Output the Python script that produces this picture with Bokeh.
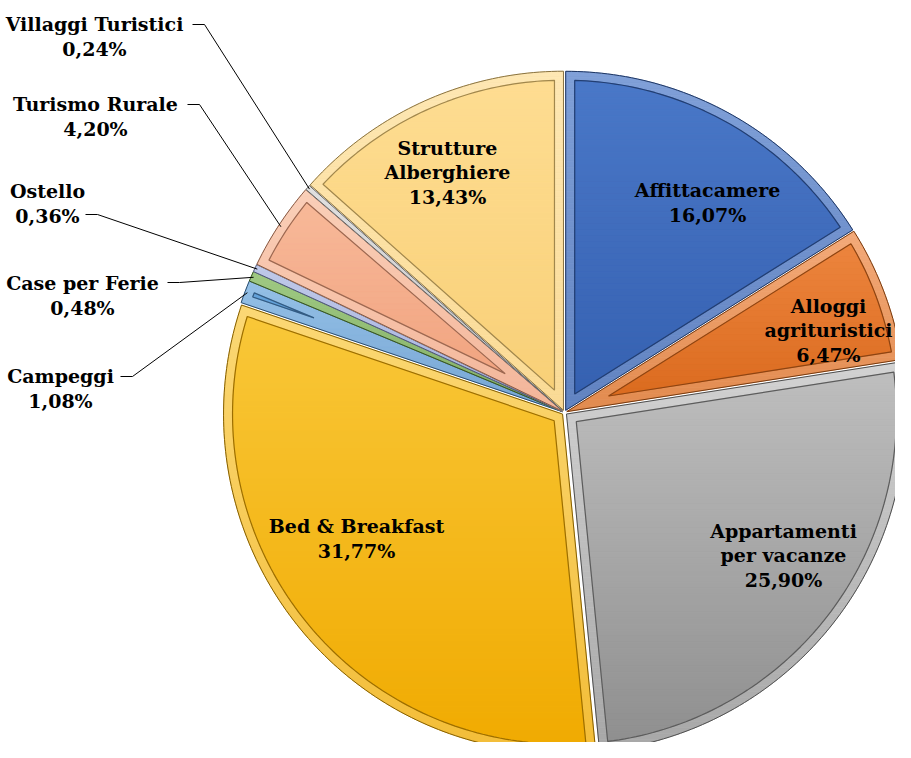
import math
from bokeh.plotting import figure
from bokeh.models import Range1d
from bokeh.embed import file_html
from bokeh.resources import INLINE
from bokeh.core.properties import value

# ---------------- data ----------------
categories = ["Affittacamere", "Alloggi agrituristici", "Appartamenti per vacanze",
              "Bed & Breakfast", "Campeggi", "Case per Ferie", "Ostello",
              "Turismo Rurale", "Villaggi Turistici", "Strutture Alberghiere"]
shares = [16.07, 6.47, 25.90, 31.77, 1.08, 0.48, 0.36, 4.20, 0.24, 13.43]
label_names = ["Affittacamere", "Alloggi\nagrituristici", "Appartamenti\nper vacanze",
               "Bed & Breakfast", "Campeggi", "Case per Ferie", "Ostello",
               "Turismo Rurale", "Villaggi Turistici", "Strutture\nAlberghiere"]

# ---------------- styles ----------------
col_top = ["#4A78C8", "#EE8640", "#BFBFBF", "#F9C83A", "#67A5DC",
           "#76B24C", "#A3B1E0", "#F8BA9A", "#D2D2D2", "#FEDD92"]
col_bot = ["#3560B0", "#D9691C", "#8E8E8E", "#F0AA00", "#4E8CC8",
           "#5E963A", "#8A9AD2", "#F0A07C", "#B2B2B2", "#F8CF76"]
FONT = "DejaVu Serif"

# label placement (pixel space of the picture)
inside_pos = {0: (715, 203), 1: (836, 331), 2: (791, 556), 3: (364, 539), 9: (455, 173)}
outside_pos = {8: (102, 37, 200), 7: (103, 117, 195), 6: (55, 204, 93),
               5: (90, 296, 175), 4: (68, 389, 128)}
TEXT_DY = 7

W, H = 895, 742
cx, cy, R = 572.0, 420.0, 339.0
EXPLODE = 2.5
INSET = 9.0


def hex2rgb(h):
    h = h.lstrip("#")
    return [int(h[i:i + 2], 16) for i in (0, 2, 4)]


def rgb2hex(c):
    return "#%02x%02x%02x" % tuple(max(0, min(255, int(round(v)))) for v in c)


def mix(h, other, t):
    a = hex2rgb(h)
    b = hex2rgb(other)
    return rgb2hex([a[i] + (b[i] - a[i]) * t for i in range(3)])


def pt(ox, oy, r, t):
    return (ox + r * math.sin(t), oy - r * math.cos(t))


def clip_band(pts, y0, y1):
    def clip(poly, keep, yv):
        out = []
        n = len(poly)
        for i in range(n):
            cur = poly[i]
            prev = poly[i - 1]
            kc, kp = keep(cur), keep(prev)
            if kc:
                if not kp:
                    f = (yv - prev[1]) / (cur[1] - prev[1])
                    out.append((prev[0] + (cur[0] - prev[0]) * f, yv))
                out.append(cur)
            elif kp:
                f = (yv - prev[1]) / (cur[1] - prev[1])
                out.append((prev[0] + (cur[0] - prev[0]) * f, yv))
        return out
    poly = clip(pts, lambda p: p[1] >= y0, y0)
    if len(poly) < 3:
        return []
    poly = clip(poly, lambda p: p[1] <= y1, y1)
    return poly if len(poly) >= 3 else []


p = figure(width=W, height=H, output_backend="svg", toolbar_location=None,
           x_range=Range1d(8, 8 + W), y_range=Range1d(8 + H, 8),
           x_axis_location=None, y_axis_location=None, min_border=0)
p.grid.visible = False
p.outline_line_color = None
p.background_fill_color = "white"

total = sum(shares)
angles = []
acc = 0.0
for s in shares:
    t0 = acc / total * 2 * math.pi
    acc += s
    t1 = acc / total * 2 * math.pi
    angles.append((t0, t1))


def gradient_patches(poly, ytop, ybot, ctop, cbot, step=6.0):
    xs, ys, cs = [], [], []
    ymin = min(q[1] for q in poly)
    ymax = max(q[1] for q in poly)
    y = ymin
    while y < ymax:
        y2 = min(y + step, ymax)
        band = clip_band(poly, y, y2)
        if band:
            t = ((y + y2) / 2 - ytop) / max(1.0, (ybot - ytop))
            t = max(0.0, min(1.0, t))
            xs.append([q[0] for q in band])
            ys.append([q[1] for q in band])
            cs.append(mix(ctop, cbot, t))
        y = y2
    return xs, ys, cs


for i, (t0, t1) in enumerate(angles):
    th = t1 - t0
    mid = (t0 + t1) / 2
    ax = cx + EXPLODE * math.sin(mid)
    ay = cy - EXPLODE * math.cos(mid)
    n = max(4, int(th * 180 / math.pi))
    outer = [(ax, ay)] + [pt(ax, ay, R, t0 + th * k / n) for k in range(n + 1)]
    ytop = min(q[1] for q in outer)
    ybot = max(q[1] for q in outer)
    rim_top = mix(col_top[i], "#ffffff", 0.30)
    rim_bot = mix(col_bot[i], "#ffffff", 0.22)
    xs, ys, cs = gradient_patches(outer, ytop, ybot, rim_top, rim_bot)
    p.patches(xs, ys, fill_color=cs, line_color=cs, line_width=0.8)
    p.patch([q[0] for q in outer], [q[1] for q in outer], fill_alpha=0,
            line_color=mix(col_bot[i], "#000000", 0.45), line_width=1.0)
    half = th / 2
    if half > 0:
        da = INSET / math.sin(half)
        if da < R - INSET - 8:
            dl = math.asin(INSET / (R - INSET))
            ix = ax + da * math.sin(mid)
            iy = ay - da * math.cos(mid)
            a0, a1 = t0 + dl, t1 - dl
            m = max(4, int((a1 - a0) * 180 / math.pi))
            inner = [(ix, iy)] + [pt(ax, ay, R - INSET, a0 + (a1 - a0) * k / m) for k in range(m + 1)]
            xs, ys, cs = gradient_patches(inner, ytop, ybot, col_top[i], col_bot[i])
            p.patches(xs, ys, fill_color=cs, line_color=cs, line_width=0.8)
            p.patch([q[0] for q in inner], [q[1] for q in inner], fill_alpha=0,
                    line_color=mix(col_bot[i], "#000000", 0.35), line_width=1.2)

# ---------------- labels ----------------
def fmt(v):
    return ("%.2f" % v).replace(".", ",") + "%"

lx, ly, lt = [], [], []
for i, (x, y) in list(inside_pos.items()) + [(k, v[:2]) for k, v in outside_pos.items()]:
    lx.append(x)
    ly.append(y + TEXT_DY)
    lt.append(label_names[i] + "\n" + fmt(shares[i]))

p.text(lx, ly, text=lt, text_font=value(FONT), text_font_style="bold",
       text_font_size="19px", text_align="center", text_baseline="middle",
       text_line_height=1.12, text_color="black")

# leader lines
for i, (x, y, ex) in outside_pos.items():
    t0, t1 = angles[i]
    mid = (t0 + t1) / 2
    px, py = pt(cx, cy, R, mid)
    ly0 = y - 5 if i != 6 else y + 18
    if i == 5:
        ly0 = y - 6
    p.line([ex, ex + 12, px], [ly0, ly0, py], line_color="black", line_width=1)

open("out.html", "w").write(file_html(p, INLINE))
